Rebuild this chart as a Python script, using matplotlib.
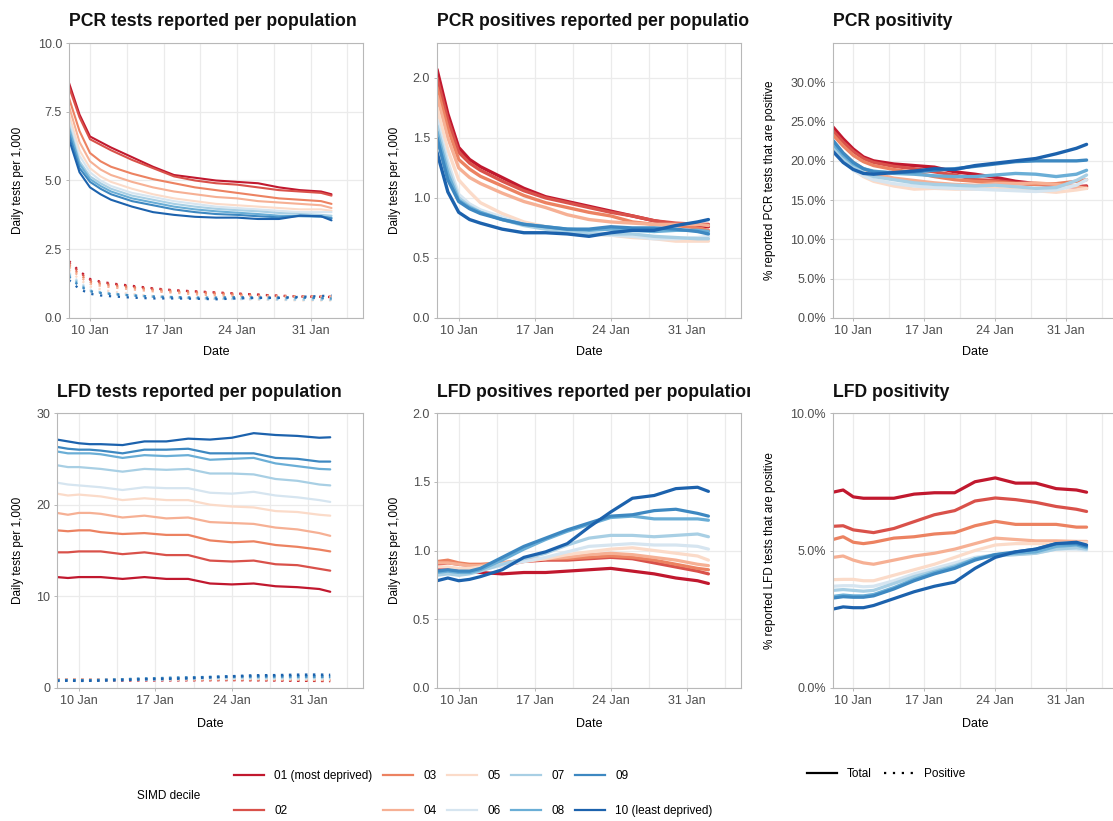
import matplotlib
matplotlib.use("Agg")
import matplotlib.pyplot as plt
import matplotlib.dates as mdates
from matplotlib.lines import Line2D
from matplotlib.transforms import Bbox, TransformedBbox
import pandas as pd

plt.rcParams['font.family'] = ['Liberation Sans', 'DejaVu Sans']

# ---- data ----
dates = pd.to_datetime([
    "2022-01-08", "2022-01-09", "2022-01-10", "2022-01-11", "2022-01-12",
    "2022-01-14", "2022-01-16", "2022-01-18", "2022-01-20", "2022-01-22",
    "2022-01-24", "2022-01-26", "2022-01-28", "2022-01-30", "2022-02-01",
    "2022-02-02"])

deciles = ["01 (most deprived)", "02", "03", "04", "05",
           "06", "07", "08", "09", "10 (least deprived)"]

# daily PCR tests per 1,000, one row per decile
pcr_tests = [
    [8.55, 7.4, 6.6, 6.4, 6.2, 5.85, 5.5, 5.2, 5.1, 5.0, 4.95, 4.9, 4.75, 4.65, 4.6, 4.5],
    [8.4, 7.3, 6.5, 6.3, 6.1, 5.75, 5.45, 5.15, 5.0, 4.9, 4.85, 4.75, 4.65, 4.6, 4.55, 4.45],
    [8.0, 6.8, 6.0, 5.7, 5.5, 5.25, 5.05, 4.9, 4.75, 4.65, 4.55, 4.45, 4.35, 4.3, 4.25, 4.15],
    [7.7, 6.4, 5.7, 5.4, 5.2, 4.95, 4.75, 4.6, 4.5, 4.4, 4.35, 4.25, 4.2, 4.15, 4.1, 4.0],
    [7.4, 6.1, 5.45, 5.15, 4.95, 4.7, 4.5, 4.35, 4.25, 4.15, 4.1, 4.05, 4.0, 3.95, 3.95, 3.9],
    [7.2, 5.9, 5.3, 5.0, 4.8, 4.55, 4.4, 4.25, 4.15, 4.05, 4.0, 3.95, 3.9, 3.85, 3.85, 3.85],
    [7.0, 5.7, 5.15, 4.9, 4.7, 4.45, 4.3, 4.15, 4.05, 3.97, 3.92, 3.88, 3.82, 3.78, 3.75, 3.72],
    [6.9, 5.6, 5.05, 4.8, 4.6, 4.35, 4.2, 4.05, 3.95, 3.88, 3.83, 3.78, 3.72, 3.7, 3.68, 3.65],
    [6.7, 5.45, 4.95, 4.7, 4.5, 4.25, 4.1, 3.95, 3.85, 3.78, 3.75, 3.7, 3.66, 3.72, 3.7, 3.62],
    [6.5, 5.3, 4.75, 4.5, 4.3, 4.05, 3.85, 3.75, 3.68, 3.65, 3.65, 3.6, 3.6, 3.72, 3.7, 3.55],
]

# daily PCR positives per 1,000
pcr_pos = [
    [2.07, 1.7, 1.42, 1.32, 1.26, 1.17, 1.08, 1.01, 0.97, 0.93, 0.89, 0.85, 0.81, 0.78, 0.77, 0.76],
    [2.0, 1.65, 1.38, 1.29, 1.23, 1.14, 1.06, 1.0, 0.96, 0.92, 0.88, 0.85, 0.81, 0.79, 0.78, 0.78],
    [1.92, 1.58, 1.32, 1.24, 1.18, 1.1, 1.02, 0.96, 0.92, 0.88, 0.85, 0.8, 0.78, 0.77, 0.75, 0.73],
    [1.85, 1.5, 1.25, 1.17, 1.12, 1.04, 0.97, 0.92, 0.86, 0.82, 0.8, 0.79, 0.78, 0.78, 0.78, 0.77],
    [1.75, 1.4, 1.15, 1.05, 0.96, 0.87, 0.8, 0.76, 0.72, 0.7, 0.69, 0.67, 0.66, 0.64, 0.64, 0.64],
    [1.65, 1.3, 1.03, 0.95, 0.9, 0.84, 0.78, 0.75, 0.72, 0.7, 0.69, 0.68, 0.66, 0.66, 0.67, 0.68],
    [1.6, 1.25, 1.0, 0.93, 0.88, 0.82, 0.77, 0.74, 0.72, 0.7, 0.7, 0.7, 0.68, 0.67, 0.66, 0.66],
    [1.55, 1.2, 0.98, 0.92, 0.88, 0.82, 0.78, 0.76, 0.74, 0.73, 0.74, 0.73, 0.72, 0.73, 0.73, 0.72],
    [1.5, 1.15, 0.97, 0.91, 0.87, 0.82, 0.78, 0.76, 0.74, 0.74, 0.76, 0.75, 0.75, 0.74, 0.72, 0.7],
    [1.38, 1.05, 0.88, 0.82, 0.79, 0.74, 0.71, 0.71, 0.7, 0.68, 0.71, 0.73, 0.73, 0.77, 0.8, 0.82],
]

# % of PCR tests positive
pcr_rate = [
    [24.3, 22.8, 21.5, 20.5, 20.0, 19.6, 19.4, 19.2, 18.6, 18.3, 17.9, 17.4, 17.1, 16.8, 16.7, 16.8],
    [23.8, 22.4, 21.2, 20.3, 19.8, 19.3, 19.0, 18.6, 18.2, 17.6, 17.5, 17.2, 17.0, 16.9, 16.7, 16.7],
    [23.3, 21.9, 20.7, 19.9, 19.4, 18.9, 18.5, 18.0, 17.6, 17.4, 17.3, 17.1, 17.0, 17.1, 17.4, 17.6],
    [22.5, 21.0, 19.8, 19.0, 18.4, 17.8, 17.5, 17.2, 17.0, 16.9, 17.1, 17.1, 17.2, 17.0, 16.7, 16.5],
    [21.8, 20.2, 18.9, 18.0, 17.4, 16.8, 16.4, 16.5, 16.4, 16.4, 16.5, 16.3, 16.2, 16.0, 16.3, 16.5],
    [21.5, 20.0, 18.8, 18.1, 17.6, 17.1, 16.8, 16.6, 16.5, 16.4, 16.3, 16.2, 16.1, 16.3, 16.9, 17.6],
    [21.8, 20.3, 19.2, 18.5, 18.0, 17.6, 17.2, 17.0, 16.9, 16.8, 16.9, 16.7, 16.5, 16.6, 17.5, 18.2],
    [22.2, 20.7, 19.6, 19.0, 18.7, 18.4, 18.3, 18.1, 18.0, 18.0, 18.2, 18.4, 18.3, 18.0, 18.3, 18.8],
    [22.6, 21.0, 19.8, 19.0, 18.6, 18.5, 18.6, 18.8, 19.0, 19.3, 19.6, 19.9, 20.0, 20.0, 20.0, 20.1],
    [21.2, 19.8, 18.9, 18.4, 18.3, 18.5, 18.7, 19.0, 18.9, 19.4, 19.7, 20.0, 20.3, 20.9, 21.6, 22.1],
]

# daily LFD tests per 1,000
lfd_tests = [
    [12.1, 12.0, 12.1, 12.1, 12.1, 11.9, 12.1, 11.9, 11.9, 11.4, 11.3, 11.4, 11.1, 11.0, 10.8, 10.5],
    [14.8, 14.8, 14.9, 14.9, 14.9, 14.6, 14.8, 14.5, 14.5, 13.9, 13.8, 13.9, 13.5, 13.4, 13.0, 12.8],
    [17.2, 17.1, 17.2, 17.2, 17.0, 16.8, 16.9, 16.7, 16.7, 16.1, 15.9, 16.0, 15.6, 15.4, 15.1, 14.9],
    [19.1, 18.9, 19.1, 19.1, 19.0, 18.6, 18.8, 18.5, 18.6, 18.1, 18.0, 17.9, 17.5, 17.3, 16.9, 16.6],
    [21.2, 21.0, 21.1, 21.0, 20.9, 20.5, 20.7, 20.5, 20.5, 20.0, 19.8, 19.7, 19.3, 19.2, 18.9, 18.8],
    [22.4, 22.2, 22.1, 22.0, 21.9, 21.6, 21.9, 21.8, 21.8, 21.3, 21.2, 21.4, 21.0, 20.8, 20.5, 20.3],
    [24.3, 24.1, 24.1, 24.0, 23.9, 23.6, 23.9, 23.8, 23.9, 23.4, 23.4, 23.3, 22.8, 22.6, 22.2, 22.1],
    [25.8, 25.6, 25.6, 25.6, 25.5, 25.1, 25.4, 25.3, 25.4, 24.9, 25.0, 25.1, 24.5, 24.2, 23.9, 23.85],
    [26.3, 26.1, 26.0, 26.0, 25.9, 25.6, 26.0, 26.0, 26.1, 25.6, 25.6, 25.6, 25.1, 25.0, 24.7, 24.7],
    [27.1, 26.9, 26.7, 26.6, 26.6, 26.5, 26.9, 26.9, 27.2, 27.1, 27.3, 27.8, 27.6, 27.5, 27.3, 27.35],
]

# daily LFD positives per 1,000
lfd_pos = [
    [0.87, 0.87, 0.86, 0.85, 0.84, 0.83, 0.84, 0.84, 0.85, 0.86, 0.87, 0.85, 0.83, 0.8, 0.78, 0.76],
    [0.9, 0.91, 0.9, 0.89, 0.89, 0.89, 0.92, 0.93, 0.93, 0.94, 0.95, 0.94, 0.91, 0.88, 0.85, 0.83],
    [0.92, 0.93, 0.91, 0.9, 0.9, 0.91, 0.93, 0.94, 0.94, 0.95, 0.96, 0.95, 0.93, 0.9, 0.87, 0.86],
    [0.91, 0.91, 0.9, 0.89, 0.89, 0.91, 0.93, 0.94, 0.95, 0.97, 0.98, 0.97, 0.95, 0.93, 0.9, 0.89],
    [0.88, 0.88, 0.87, 0.87, 0.88, 0.9, 0.92, 0.94, 0.97, 0.99, 1.01, 1.02, 1.0, 0.98, 0.96, 0.93],
    [0.84, 0.84, 0.84, 0.84, 0.86, 0.89, 0.92, 0.95, 0.99, 1.03, 1.04, 1.05, 1.04, 1.04, 1.03, 1.01],
    [0.82, 0.83, 0.82, 0.83, 0.85, 0.9, 0.94, 0.98, 1.04, 1.09, 1.11, 1.11, 1.1, 1.11, 1.12, 1.1],
    [0.84, 0.85, 0.84, 0.84, 0.86, 0.93, 1.01, 1.08, 1.14, 1.19, 1.24, 1.25, 1.23, 1.23, 1.23, 1.22],
    [0.85, 0.86, 0.85, 0.85, 0.87, 0.95, 1.03, 1.09, 1.15, 1.2, 1.25, 1.26, 1.29, 1.3, 1.27, 1.25],
    [0.78, 0.8, 0.78, 0.79, 0.81, 0.86, 0.95, 0.99, 1.05, 1.17, 1.28, 1.38, 1.4, 1.45, 1.46, 1.43],
]

# % of LFD tests positive
lfd_rate = [
    [7.12, 7.2, 6.95, 6.9, 6.9, 6.9, 7.05, 7.1, 7.1, 7.5, 7.64, 7.45, 7.45, 7.25, 7.2, 7.12],
    [5.88, 5.9, 5.75, 5.7, 5.65, 5.8, 6.05, 6.3, 6.45, 6.8, 6.91, 6.85, 6.75, 6.6, 6.5, 6.42],
    [5.4, 5.5, 5.3, 5.25, 5.3, 5.45, 5.5, 5.6, 5.65, 5.9, 6.06, 5.95, 5.95, 5.95, 5.85, 5.85],
    [4.75, 4.8, 4.65, 4.55, 4.5, 4.65, 4.8, 4.9, 5.05, 5.25, 5.45, 5.4, 5.35, 5.35, 5.33, 5.33],
    [3.94, 3.95, 3.95, 3.9, 3.9, 4.1, 4.3, 4.5, 4.75, 5.0, 5.2, 5.25, 5.25, 5.25, 5.3, 5.3],
    [3.7, 3.72, 3.72, 3.68, 3.7, 3.9, 4.15, 4.35, 4.55, 4.75, 4.85, 4.85, 4.9, 5.05, 5.05, 5.0],
    [3.55, 3.58, 3.55, 3.52, 3.55, 3.8, 4.05, 4.25, 4.45, 4.7, 4.8, 4.85, 4.9, 5.05, 5.1, 5.05],
    [3.33, 3.38, 3.35, 3.35, 3.4, 3.65, 3.95, 4.2, 4.4, 4.7, 4.85, 4.9, 4.95, 5.15, 5.2, 5.1],
    [3.27, 3.32, 3.3, 3.3, 3.35, 3.6, 3.9, 4.15, 4.35, 4.65, 4.85, 4.95, 5.05, 5.25, 5.25, 5.15],
    [2.87, 2.95, 2.92, 2.92, 3.0, 3.25, 3.5, 3.7, 3.85, 4.35, 4.75, 4.95, 5.05, 5.25, 5.3, 5.2],
]

colours = ['#c1182e', '#d9514a', '#ec8261', '#f6b094', '#fbdbc9',
           '#d6e5f0', '#a8cfe4', '#6aaed6', '#3d88c1', '#1c62ad']

W, H = 1113, 821
fig = plt.figure(figsize=(W / 100, H / 100), dpi=100)

GRID = '#ebebeb'
FRAME = '#b8b8b8'
TICKTXT = '#4d4d4d'

major_days = pd.to_datetime(["2022-01-10", "2022-01-17", "2022-01-24", "2022-01-31"])
minor_days = mdates.date2num(major_days) + 3.5


def make_axes(x0, x1, y0, y1, ylim, yticks, fmt, ylabel, ylab_x, title, clip_x=None):
    ax = fig.add_axes([x0 / W, 1 - y1 / H, (x1 - x0) / W, (y1 - y0) / H])
    ax.set_xlim(pd.Timestamp("2022-01-08"), pd.Timestamp("2022-02-05"))
    ax.set_ylim(*ylim)
    ax.set_xticks(major_days)
    ax.set_xticks(minor_days, minor=True)
    ax.xaxis.set_major_formatter(mdates.DateFormatter('%d %b'))
    ax.set_yticks(yticks)
    ax.set_yticklabels([fmt.format(v) for v in yticks])
    ax.grid(True, which='major', color=GRID, lw=0.9)
    ax.grid(True, which='minor', axis='x', color=GRID, lw=0.9)
    ax.set_axisbelow(True)
    for s in ax.spines.values():
        s.set_color(FRAME)
        s.set_linewidth(0.8)
    ax.tick_params(which='major', color=FRAME, length=2.5, width=0.7,
                   labelcolor=TICKTXT, labelsize=9, pad=2.5)
    ax.tick_params(which='minor', length=0)
    ax.set_xlabel('Date', fontsize=9)
    ax.xaxis.label.set_verticalalignment('center')
    ax.xaxis.set_label_coords(0.5, -(352 - y1) / (y1 - y0) if y1 < 400 else -(724 - y1) / (y1 - y0))
    ax.set_ylabel(ylabel, fontsize=8.5)
    ax.yaxis.label.set_verticalalignment('center')
    ax.yaxis.set_label_coords((ylab_x - x0) / (x1 - x0), 0.5)
    ty = 21 if y1 < 400 else 392
    t = fig.text(x0 / W, 1 - ty / H, title, fontsize=12.7, fontweight='bold',
                 va='center', ha='left', color='#111111')
    if clip_x is not None:
        t.set_clip_box(TransformedBbox(Bbox([[0, 0], [clip_x / W, 1]]), fig.transFigure))
        t.set_clip_on(True)
    return ax


def draw(ax, series, lw, ls='-'):
    for i, vals in enumerate(series):
        ax.plot(dates, vals, color=colours[i], lw=lw, ls=ls,
                solid_capstyle='round', solid_joinstyle='round')


# row 1
ax1 = make_axes(69, 363, 43, 318, (0, 10), [0, 2.5, 5, 7.5, 10], '{:.1f}',
                'Daily tests per 1,000', 18, 'PCR tests reported per population')
draw(ax1, pcr_tests, 1.5)
draw(ax1, pcr_pos, 1.6, ls=(0, (1, 3)))

ax2 = make_axes(437, 741, 43, 318, (0, 2.29), [0, 0.5, 1, 1.5, 2], '{:.1f}',
                'Daily tests per 1,000', 395, 'PCR positives reported per population',
                clip_x=750)
draw(ax2, pcr_pos, 2.4)

ax3 = make_axes(833, 1117, 43, 318, (0, 35), [0, 5, 10, 15, 20, 25, 30], '{:.1f}%',
                '% reported PCR tests that are positive', 770, 'PCR positivity')
draw(ax3, pcr_rate, 2.4)

# row 2
ax4 = make_axes(57, 363, 413, 688, (0, 30), [0, 10, 20, 30], '{:.0f}',
                'Daily tests per 1,000', 18, 'LFD tests reported per population')
draw(ax4, lfd_tests, 1.6)
draw(ax4, lfd_pos, 1.8, ls=(0, (1, 2.2)))

ax5 = make_axes(437, 741, 413, 688, (0, 2), [0, 0.5, 1, 1.5, 2], '{:.1f}',
                'Daily tests per 1,000', 395, 'LFD positives reported per population',
                clip_x=750)
draw(ax5, lfd_pos, 2.3)

ax6 = make_axes(833, 1117, 413, 688, (0, 10), [0, 5, 10], '{:.1f}%',
                '% reported LFD tests that are positive', 770, 'LFD positivity')
draw(ax6, lfd_rate, 2.3)

# legends
handles = [Line2D([], [], color=c, lw=1.6) for c in colours]
fig.legend(handles, deciles, ncol=5, loc='center left',
           bbox_to_anchor=(234 / W, 1 - 793.5 / H), frameon=False,
           fontsize=8.5, handlelength=2.5, handletextpad=0.9,
           columnspacing=0.9, labelspacing=1.95, borderpad=0, borderaxespad=0)
fig.text(137 / W, 1 - 796 / H, 'SIMD decile', fontsize=8.5, va='center', ha='left')

lt_handles = [Line2D([], [], color='black', lw=1.6),
              Line2D([], [], color='black', lw=1.6, ls=(0, (1, 3)))]
fig.legend(lt_handles, ['Total', 'Positive'], ncol=2, loc='center left',
           bbox_to_anchor=(807 / W, 1 - 774 / H), frameon=False,
           fontsize=8.5, handlelength=2.5, handletextpad=0.9,
           columnspacing=1.0, borderpad=0, borderaxespad=0)

fig.savefig('out.png', dpi=100)
